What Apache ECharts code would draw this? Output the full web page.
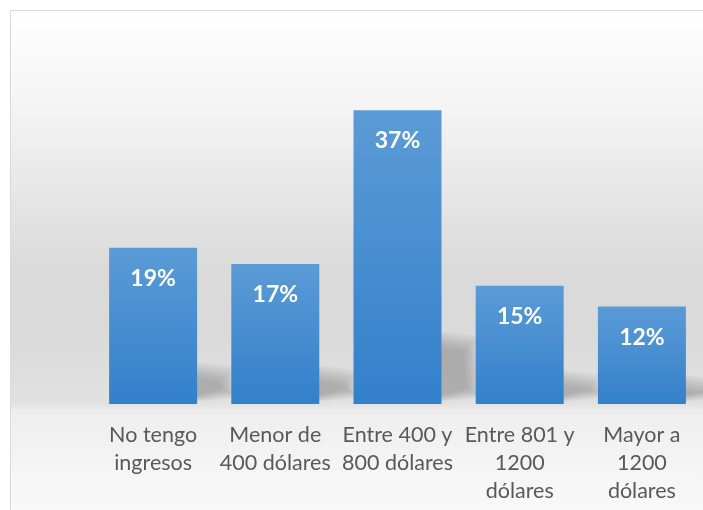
<!DOCTYPE html>
<html>
<head>
<meta charset="utf-8">
<script src="https://cdn.jsdelivr.net/npm/echarts@6/dist/echarts.min.js"></script>
<style>
  html, body { margin: 0; padding: 0; background: #fff; overflow: hidden; }
  #frame {
    position: absolute; left: 10px; top: 10px; width: 720px; height: 520px;
    border: 1px solid #d9d9d9;
    background: linear-gradient(to bottom, #ffffff 0%, #f3f3f3 20%, #dadada 50%, #dadada 62%, #e1e1e1 75.5%, #eeeeee 77%, #f6f6f6 90%, #fafafa 100%);
  }
  #main { position: absolute; left: 0; top: 0; width: 703px; height: 510px; }
</style>
</head>
<body>
<div id="frame"></div>
<div id="main"></div>
<script>
// categorías y porcentajes
const categories = [
  'No tengo\ningresos',
  'Menor de\n400 dólares',
  'Entre 400 y\n800 dólares',
  'Entre 801 y\n1200\ndólares',
  'Mayor a\n1200\ndólares'
];
const values = [19.4, 17.4, 36.5, 14.7, 12.1];

const chart = echarts.init(document.getElementById('main'));

const option = {
  backgroundColor: 'transparent',
  animation: false,
  grid: { left: 92, top: 82, width: 612, height: 322 },
  xAxis: {
    type: 'category',
    data: categories,
    axisLine: { show: false },
    axisTick: { show: false },
    axisLabel: {
      interval: 0,
      margin: 17,
      color: '#595959',
      fontFamily: 'Lato',
      fontSize: 21.5,
      lineHeight: 28
    }
  },
  yAxis: {
    type: 'value',
    min: 0,
    max: 40,
    show: false,
    splitLine: { show: false }
  },
  series: [
    {
      // sombra difusa detrás de cada barra (capas superpuestas)
      type: 'custom',
      z: 1,
      silent: true,
      renderItem: function (params, api) {
        const top = api.coord([api.value(0), api.value(1)]);
        const base = api.coord([api.value(0), 0]);
        const band = api.size([1, 0])[0];
        const w = band * 0.72;
        const xr = top[0] + w / 2;
        const h = base[1] - top[1];
        const sh = h * 0.22;
        const layers = [];
        for (let k = 0; k < 7; k++) {
          const d = 9 - k * 2.5;
          layers.push({
            type: 'polygon',
            shape: {
              points: [
                [xr - 12, base[1] - 4 + d * 0.3],
                [xr - 12, base[1] - sh - d],
                [xr + 28 + d, base[1] - sh + 6 - d],
                [xr + 32 + d, base[1] - 12 + d * 0.6]
              ]
            },
            style: { fill: 'rgba(110,110,110,0.075)' }
          });
        }
        return { type: 'group', children: layers };
      },
      data: values.map((v, i) => [i, v])
    },
    {
      type: 'bar',
      z: 2,
      barWidth: '72%',
      data: values,
      itemStyle: {
        color: new echarts.graphic.LinearGradient(0, 0, 0, 1, [
          { offset: 0, color: '#5b9bd6' },
          { offset: 1, color: '#3380cb' }
        ])
      },
      label: {
        show: true,
        position: 'insideTop',
        distance: 19,
        color: '#ffffff',
        fontFamily: 'Lato',
        fontWeight: 'bold',
        fontSize: 23,
        formatter: p => Math.round(p.value) + '%'
      }
    }
  ]
};

chart.setOption(option);
</script>
</body>
</html>
